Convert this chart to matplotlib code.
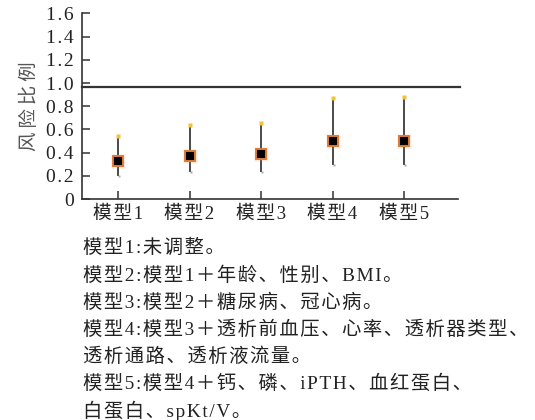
import numpy as np
import matplotlib.pyplot as plt

plt.rcParams['font.family'] = ['Liberation Serif', 'Noto Sans CJK SC', 'DejaVu Sans']

models = ['模型1', '模型2', '模型3', '模型4', '模型5']
hr = [0.33, 0.37, 0.39, 0.50, 0.50]
ci_low = [0.20, 0.23, 0.23, 0.29, 0.29]
ci_high = [0.54, 0.64, 0.66, 0.87, 0.88]
ref_line = 0.97
yticks = [0, 0.2, 0.4, 0.6, 0.8, 1.0, 1.2, 1.4, 1.6]
notes = [
    '模型1:未调整。',
    '模型2:模型1＋年龄、性别、BMI。',
    '模型3:模型2＋糖尿病、冠心病。',
    '模型4:模型3＋透析前血压、心率、透析器类型、',
    '透析通路、透析液流量。',
    '模型5:模型4＋钙、磷、iPTH、血红蛋白、',
    '白蛋白、spKt/V。',
]


def spaced(s, gap='\u200a'):
    # loose letter spacing like the printed figure
    return gap.join(s)


fig = plt.figure(figsize=(5.35, 4.2), dpi=100)
ax = fig.add_axes([0.1538, 0.526, 0.7017, 0.442])

x = np.arange(1, len(models) + 1)

# reference line
ax.plot([0.5, 5.78], [ref_line, ref_line], color='#333333', lw=1.6, clip_on=False, zorder=2)

# confidence intervals
ax.vlines(x, ci_low, ci_high, color='#4a4a4a', lw=1.4, zorder=3)
ax.plot(x, ci_high, 's', ms=2.2, color='#f5c233', mec='none', zorder=4)
ax.plot(x + 0.02, ci_low, 's', ms=2.0, color='#aaaaaa', mec='none', zorder=4)

# point estimates with soft glow
ax.plot(x, hr, 's', ms=10, color='#e8955a', alpha=0.2, mec='none', zorder=4)
ax.plot(x, hr, 's', ms=6.5, color='black', mec='#e07a35', mew=1.4, zorder=5)

ax.set_xlim(0.5, 5.75)
ax.set_ylim(0, 1.6)
ax.set_xticks(x)
ax.set_xticklabels([spaced(m) for m in models], fontsize=13.5)
ax.set_yticks(yticks)
ax.set_yticklabels([spaced('0' if v == 0 else '%.1f' % v) for v in yticks], fontsize=14)

for s in ['top', 'right']:
    ax.spines[s].set_visible(False)
for s in ['left', 'bottom']:
    ax.spines[s].set_color('#333333')
    ax.spines[s].set_linewidth(1.2)
ax.tick_params(direction='in', length=6, width=1.1, color='#333333', labelcolor='#222222')
ax.tick_params(axis='y', pad=6)
ax.tick_params(axis='x', pad=5)

ax.set_ylabel(spaced('风险比例', '\u2009'), fontsize=14, color='#555555')
ax.yaxis.set_label_coords(-0.115, 0.5)

y0 = 1 - 248 / 420
step = 27.2 / 420
for i, line in enumerate(notes):
    fig.text(83 / 535, y0 - i * step, spaced(line), fontsize=13.9, color='#222222',
             va='center', ha='left')

fig.savefig('out.png', dpi=100)
